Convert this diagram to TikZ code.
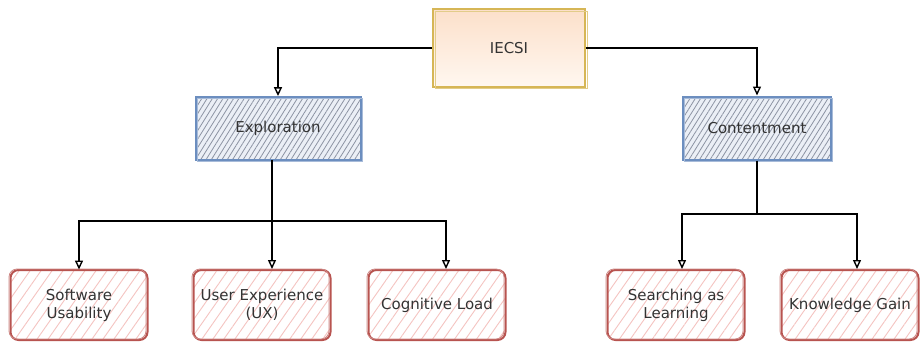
\documentclass[tikz,border=0pt]{standalone}
\usepackage{fontspec}
\setmainfont{DejaVu Sans}
\usetikzlibrary{arrows.meta,patterns.meta}

\definecolor{txt}{HTML}{333333}
\definecolor{rootline}{HTML}{D6B656}
\definecolor{roottop}{HTML}{FCE0CA}
\definecolor{rootbot}{HTML}{FFF7F0}
\definecolor{midline}{HTML}{6C8EBF}
\definecolor{midfill}{HTML}{EBEFF6}
\definecolor{midhatch}{HTML}{8C93A3}
\definecolor{leafline}{HTML}{B85450}
\definecolor{leafhatch}{HTML}{F5C4C1}

\tikzset{
  box/.style={minimum width=#1, inner sep=0pt, align=center, text=txt,
    font=\fontsize{15}{18}\selectfont},
  rootbox/.style={box=152pt, minimum height=77pt, draw=rootline, line width=2pt,
    top color=roottop, bottom color=rootbot,
    postaction={draw=rootline!70, line width=0.8pt,
      transform canvas={shift={(2pt,-2pt)}}}},
  midbox/.style={box=#1, minimum height=63pt, draw=midline, line width=2pt,
    preaction={fill=midfill},
    pattern={Lines[angle=58,distance=4.5pt,line width=0.8pt]}, pattern color=midhatch,
    postaction={draw=midline!60, line width=0.8pt,
      transform canvas={shift={(1.5pt,-1.5pt)}}}},
  leafbox/.style={box=137pt, minimum height=70pt, draw=leafline, line width=2pt,
    rounded corners=8pt, preaction={fill=white},
    pattern={Lines[angle=55,distance=9pt,line width=0.9pt]}, pattern color=leafhatch,
    postaction={draw=leafline!70, line width=0.8pt, rounded corners=8pt,
      transform canvas={shift={(-1.5pt,1pt)}}}},
  link/.style={draw=black, line width=1.6pt},
  arr/.style={link, -{Triangle[open,length=9pt,width=8pt,line width=1.4pt]}},
}

\begin{document}
\begin{tikzpicture}[x=1pt,y=-1pt]
\useasboundingbox (0,0) rectangle (923,345);

% top of the hierarchy
\node[rootbox] (iecsi) at (509,48) {IECSI};

% dimensions
\node[midbox=165pt] (expl) at (278,128) {Exploration};
\node[midbox=148pt] (cont) at (757,128) {Contentment};

% measured aspects
\node[leafbox] (sw)  at (79,305)  {Software\\Usability};
\node[leafbox] (ux)  at (262,305) {User Experience\\(UX)};
\node[leafbox] (cog) at (437,305) {Cognitive Load};
\node[leafbox] (sal) at (676,305) {Searching as\\Learning};
\node[leafbox] (kg)  at (850,305) {Knowledge Gain};

% root to dimensions
\draw[arr] (iecsi.west) -| (expl.north);
\draw[arr] (iecsi.east) -| (cont.north);

% exploration bus
\coordinate (ej) at (272,221);
\coordinate (ecog) at (446,221);
\draw[link] (expl.south -| ej) -- (ej);
\draw[arr] (ej) -| (sw.north);
\draw[arr] (ej) -- (ux.north -| ej);
\draw[arr] (ej) -- (ecog) -- (cog.north -| ecog);

% contentment bus
\coordinate (cj) at (757,214);
\coordinate (csal) at (682,214);
\coordinate (ckg) at (857,214);
\draw[link] (cont.south) -- (cj);
\draw[arr] (cj) -- (csal) -- (sal.north -| csal);
\draw[arr] (cj) -- (ckg) -- (kg.north -| ckg);
\end{tikzpicture}
\end{document}
